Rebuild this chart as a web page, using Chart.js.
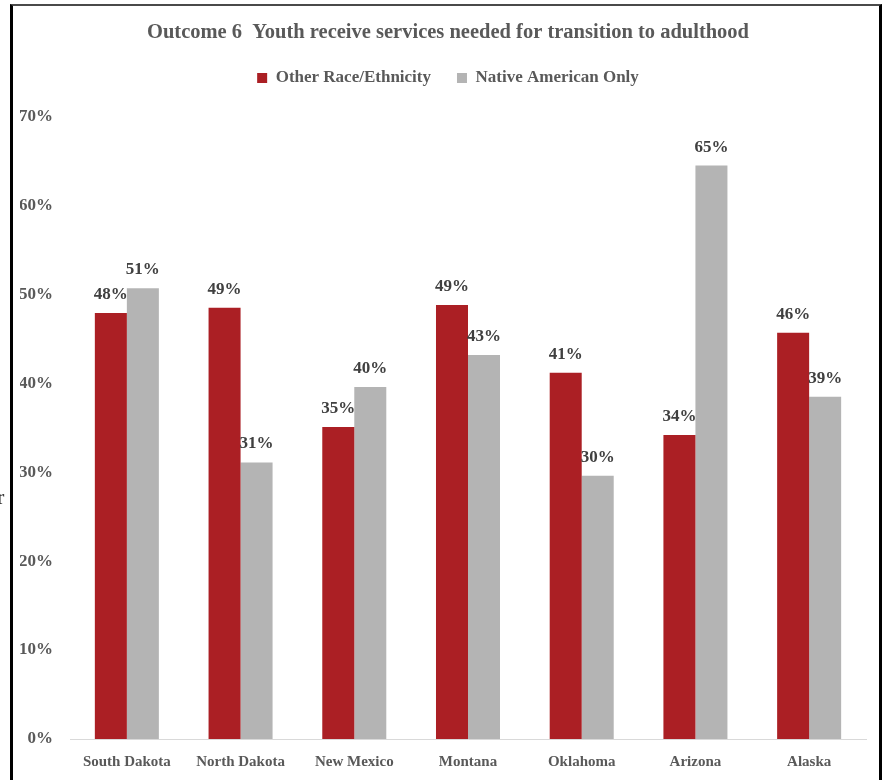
<!DOCTYPE html>
<html>
<head>
<meta charset="utf-8">
<script src="https://cdn.jsdelivr.net/npm/chart.js@4/dist/chart.umd.min.js"></script>
<style>
  body { margin: 0; background: #fff; }
  #wrap { position: relative; width: 882px; height: 780px; overflow: hidden; }
  #frame {
    position: absolute; left: 10px; top: 4px; width: 866px; height: 800px;
    border-left: 3px solid #000; border-right: 3px solid #000; border-top: 2px solid #4a4a4a;
    pointer-events: none;
  }
  #stray { position: absolute; left: -3px; top: 484px; font: 22px "Liberation Serif", serif; color: #222; }
</style>
</head>
<body>
<div id="wrap">
  <canvas id="chart" width="882" height="780"></canvas>
  <div id="frame"></div>
  <span id="stray">r</span>
</div>
<script>
const states = ['South Dakota', 'North Dakota', 'New Mexico', 'Montana', 'Oklahoma', 'Arizona', 'Alaska'];
const otherRace = [47.9, 48.5, 35.1, 48.8, 41.2, 34.2, 45.7];
const nativeAmerican = [50.7, 31.1, 39.6, 43.2, 29.6, 64.5, 38.5];
const yTicks = [0, 10, 20, 30, 40, 50, 60, 70];

const fontFamily = '"Liberation Serif", "Times New Roman", serif';

// labels above each bar
const barLabels = {
    id: 'barLabels',
    afterDatasetsDraw(chart) {
        const ctx = chart.ctx;
        ctx.save();
        ctx.font = 'bold 17px ' + fontFamily;
        ctx.fillStyle = '#404040';
        ctx.textAlign = 'center';
        ctx.textBaseline = 'alphabetic';
        chart.data.datasets.forEach((ds, i) => {
            chart.getDatasetMeta(i).data.forEach((bar, j) => {
                ctx.fillText(Math.round(ds.data[j]) + '%', bar.x, bar.y - 14);
            });
        });
        ctx.restore();
    }
};

new Chart(document.getElementById('chart').getContext('2d'), {
    type: 'bar',
    data: {
        labels: states,
        datasets: [{
            label: 'Other Race/Ethnicity',
            data: otherRace,
            backgroundColor: '#AB1F24',
            barPercentage: 1,
            categoryPercentage: 0.563
        }, {
            label: 'Native American Only',
            data: nativeAmerican,
            backgroundColor: '#B4B4B4',
            barPercentage: 1,
            categoryPercentage: 0.563
        }]
    },
    options: {
        responsive: false,
        animation: false,
        layout: { padding: { left: 20, right: 6, top: 0, bottom: 0 } },
        plugins: {
            title: {
                display: true,
                text: 'Outcome 6  Youth receive services needed for transition to adulthood',
                color: '#595959',
                font: { family: fontFamily, size: 20.5, weight: 'bold' },
                padding: { top: 20, bottom: -1 }
            },
            legend: {
                display: true,
                labels: {
                    color: '#595959',
                    font: { family: fontFamily, size: 17, weight: 'bold' },
                    boxWidth: 10,
                    boxHeight: 10,
                    padding: 26
                }
            },
            tooltip: { enabled: false }
        },
        scales: {
            x: {
                grid: { display: false, drawTicks: false },
                border: { display: true, color: '#d9d9d9', width: 1 },
                ticks: {
                    color: '#595959',
                    font: { family: fontFamily, size: 15, weight: 'bold' },
                    padding: 14,
                    maxRotation: 0
                },
                afterFit(scale) { scale.height = 41; }
            },
            y: {
                min: 0,
                max: 72.25,
                grid: { display: false, drawTicks: false },
                border: { display: false },
                afterBuildTicks(scale) { scale.ticks = yTicks.map(v => ({ value: v })); },
                ticks: {
                    color: '#595959',
                    font: { family: fontFamily, size: 17, weight: 'bold' },
                    padding: 17,
                    callback: v => v + '%'
                },
                afterFit(scale) { scale.width = 50; }
            },
            // empty right axis, only keeps the plot clear of the right border
            yRight: {
                position: 'right',
                min: 0,
                max: 72.25,
                grid: { display: false, drawTicks: false },
                border: { display: false },
                ticks: { display: false },
                afterFit(scale) { scale.width = 10; }
            }
        }
    },
    plugins: [barLabels]
});
</script>
</body>
</html>
